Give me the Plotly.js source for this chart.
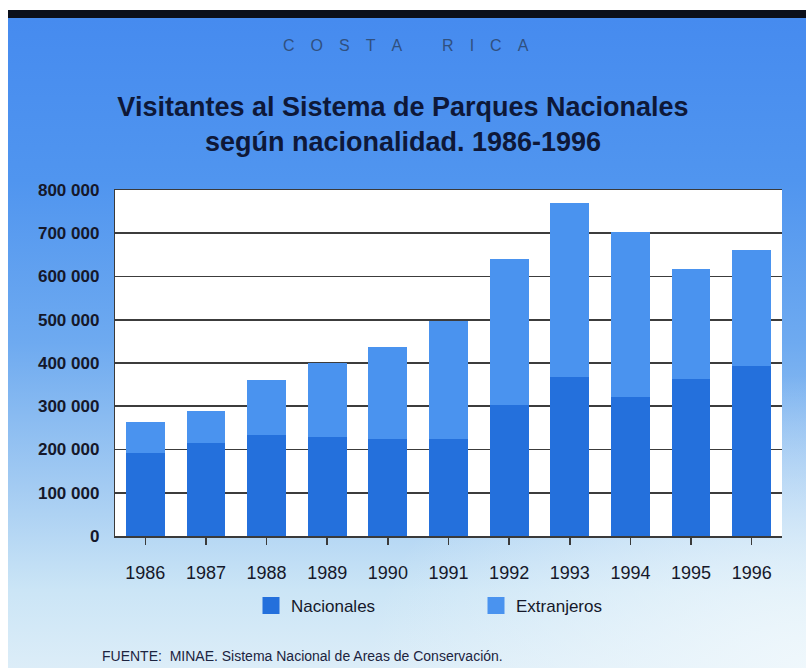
<!DOCTYPE html>
<html>
<head>
<meta charset="utf-8">
<script src="https://cdn.plot.ly/plotly-3.0.1.min.js"></script>
<style>
  html, body { margin: 0; padding: 0; background: #ffffff; }
  #frame {
    position: absolute; left: 8px; top: 10px; width: 798px; height: 658px;
    border-top: 8px solid #0b0f1a; box-sizing: border-box;
    background:
      radial-gradient(ellipse 55% 45% at 100% 100%, rgba(240,248,252,0.95) 0%, rgba(240,248,252,0) 100%),
      linear-gradient(to bottom, #468bef 0%, #5095ef 25%, #6eaaf0 50%, #a3cbf2 72%, #cbe5f6 88%, #dcedf8 100%);
  }
  #chart { position: absolute; left: 0; top: 0; width: 806px; height: 668px; }
</style>
</head>
<body>
<div id="frame"></div>
<div id="chart"></div>
<script>
// ---- data ----
const years = ["1986","1987","1988","1989","1990","1991","1992","1993","1994","1995","1996"];
const nacionales  = [193000, 216000, 233000, 230000, 224000, 224000, 303000, 368000, 321000, 362000, 392000];
const extranjeros = [70000, 74000, 127000, 169000, 214000, 272000, 338000, 403000, 381000, 255000, 270000];
const yTickVals  = [0, 100000, 200000, 300000, 400000, 500000, 600000, 700000, 800000];
const yTickText  = ["0", "100 000", "200 000", "300 000", "400 000", "500 000", "600 000", "700 000", "800 000"];
const seriesNames = ["Nacionales", "Extranjeros"];
const seriesColors = ["#2470dc", "#4a93ef"];

const FAM = '"Liberation Sans", Arial, sans-serif';
const ink = '#15182a';
function f(size, color, weight) {
  return { family: FAM, size: size, color: color, weight: weight || 'normal' };
}

const traces = [
  { type: 'bar', name: seriesNames[0], x: years, y: nacionales, showlegend: false,
    marker: { color: seriesColors[0], line: { width: 0 } } },
  { type: 'bar', name: seriesNames[1], x: years, y: extranjeros, showlegend: false,
    marker: { color: seriesColors[1], line: { width: 0 } } },
  // legend-only entries (a single empty value) so the legend swatches can be larger
  { type: 'bar', name: seriesNames[0], x: [years[0]], y: [null], showlegend: true,
    marker: { color: seriesColors[0], line: { width: 5, color: seriesColors[0] } } },
  { type: 'bar', name: seriesNames[1], x: [years[0]], y: [null], showlegend: true,
    marker: { color: seriesColors[1], line: { width: 5, color: seriesColors[1] } } }
];

const layout = {
  width: 806, height: 668,
  paper_bgcolor: 'rgba(0,0,0,0)',
  plot_bgcolor: '#ffffff',
  margin: { l: 115, r: 24, t: 190, b: 132, pad: 0 },
  barmode: 'stack',
  bargap: 0.36,
  showlegend: true,
  title: {
    text: '<b>Visitantes al Sistema de Parques Nacionales<br>según nacionalidad. 1986-1996</b>',
    font: f(27, '#0e1838'),
    x: 0.5, xanchor: 'center',
    yref: 'container', y: 1 - 116 / 668, yanchor: 'top'
  },
  xaxis: {
    type: 'category',
    showgrid: false,
    showline: true, mirror: true, linecolor: '#3a3a3a', linewidth: 1.5,
    ticks: 'outside', ticklen: 7, tickwidth: 1.5, tickcolor: '#3a3a3a',
    ticklabelstandoff: 13,
    tickfont: f(18, ink),
    fixedrange: true
  },
  yaxis: {
    range: [0, 800000],
    tickvals: yTickVals, ticktext: yTickText,
    showgrid: true, gridcolor: '#3c3c3c', gridwidth: 1.6,
    zeroline: false,
    showline: true, linecolor: '#3a3a3a', linewidth: 1.2,
    ticks: '', ticklabelstandoff: 11,
    tickfont: f(17, ink, 'bold'),
    fixedrange: true
  },
  legend: {
    orientation: 'h',
    x: (251 - 115) / 667, xanchor: 'left',
    y: (536 - 606) / 346, yanchor: 'middle',
    bgcolor: 'rgba(0,0,0,0)',
    font: f(17, ink),
    entrywidth: 180, entrywidthmode: 'pixels',
    traceorder: 'normal'
  },
  annotations: [
    { text: 'C\u2003O\u2003S\u2003T\u2003A\u2003\u2003\u2002R\u2003I\u2003C\u2003A',
      xref: 'paper', yref: 'paper', x: 0.5 + (406 - 448.5) / 667, xanchor: 'center',
      y: (536 - 45) / 346, yanchor: 'middle', showarrow: false,
      font: f(16, '#30507f') },
    { text: 'FUENTE:  MINAE. Sistema Nacional de Areas de Conservación.',
      xref: 'paper', yref: 'paper', x: (100 - 115) / 667, xanchor: 'left',
      y: (536 - 656) / 346, yanchor: 'middle', showarrow: false,
      font: f(14, '#1c2440') }
  ]
};

Plotly.newPlot('chart', traces, layout, { displayModeBar: false, staticPlot: true });
</script>
</body>
</html>
